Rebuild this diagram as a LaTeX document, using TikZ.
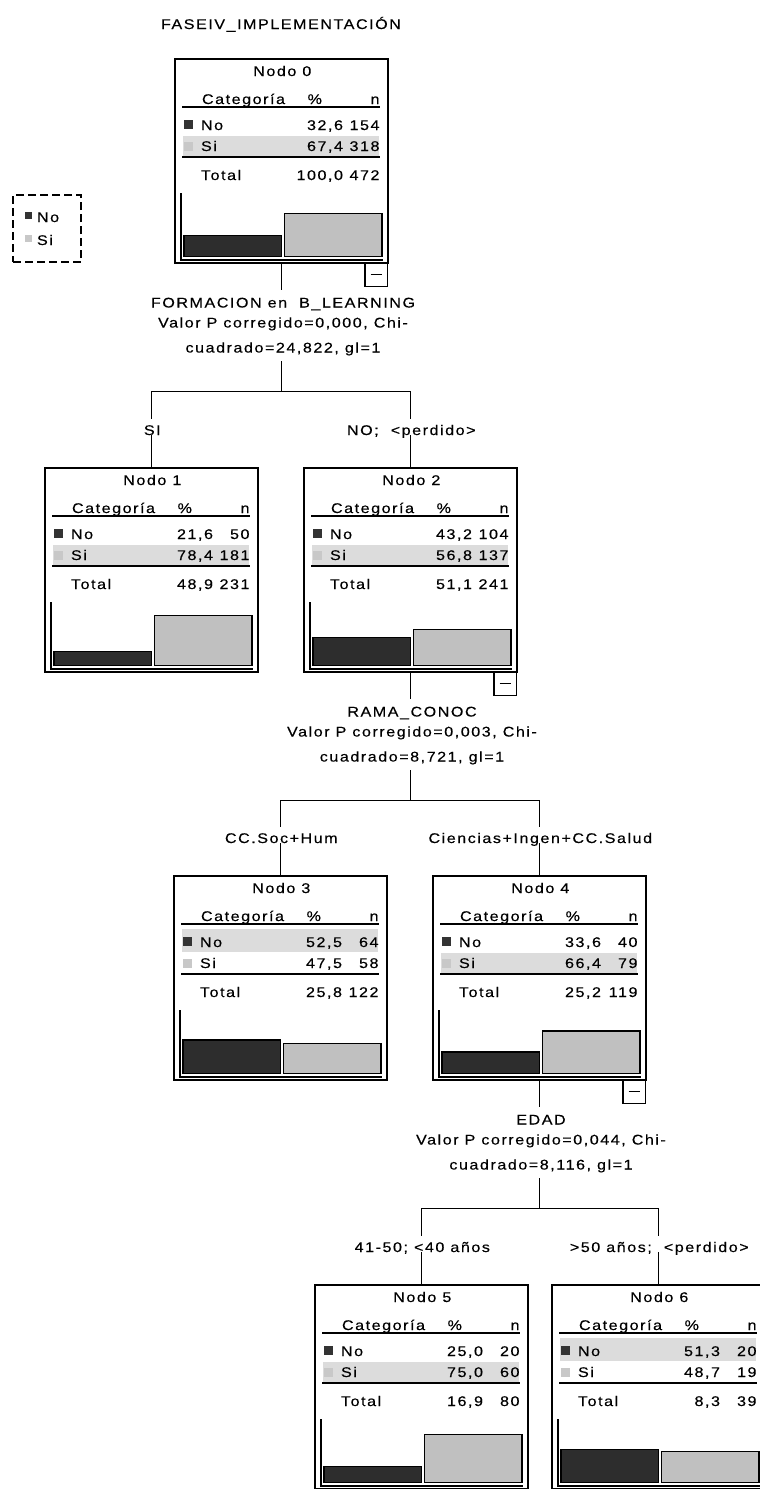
\documentclass[tikz,border=0pt]{standalone}
\usepackage{fontspec}
\setmainfont{Liberation Sans}
\newfontfamily\spssf{Liberation Sans}[LetterSpace=11, FakeStretch=1.15, FakeBold=0.3]
\usetikzlibrary{calc}
\definecolor{dk}{HTML}{2D2D2D}
\definecolor{lt}{HTML}{C0C0C0}
\definecolor{bandc}{HTML}{DCDCDC}
\definecolor{sqd}{HTML}{333333}
\definecolor{sql}{HTML}{C8C8C8}
\tikzset{
  txt/.style={font={\spssf\fontsize{14}{16}\selectfont}, inner sep=0pt, outer sep=0pt},
  frame/.style={draw, line width=1.2pt, anchor=north west, minimum width=213pt, minimum height=204pt, inner sep=0pt, outer sep=0pt},
  rule/.style={line width=1.2pt},
  bar/.style={draw=black, line width=1.2pt},
  conn/.style={line width=1.2pt},
  branch/.style={txt, anchor=base, fill=white, text height=16pt, text depth=0pt, inner xsep=1pt},
  legbox/.style={draw, dash pattern=on 8pt off 4pt, line width=1.2pt, anchor=north west, minimum width=68pt, minimum height=67pt, inner sep=0pt, outer sep=0pt},
}
\def\parsedata#1/#2/#3/#4/#5/#6\endparse{\def\dA{#1}\def\dB{#2}\def\dC{#3}\def\dD{#4}\def\dE{#5}\def\dF{#6}}
% #1 name, #2 x, #3 y, #4 number, #5 data, #6 no %, #7 si %, #8 highlighted row, #9 minus box
\newcommand\treenode[9]{%
  \parsedata#5\endparse
  \begin{scope}[shift={(#2,#3)}]
    \ifnum#8=1 \fill[bandc] (8,53) rectangle (204,76);\else \fill[bandc] (8,77) rectangle (204,97);\fi
    \node[txt,anchor=base] (#1-title) at (107.3,17) {Nodo #4};
    \node[txt,anchor=base west] (#1-cat) at (27,45) {Categoría};
    \node[txt,anchor=base] (#1-pc) at (139.8,45) {\%};
    \node[txt,anchor=base east] (#1-n) at (204.5,45) {n};
    \draw[rule] (7,48) -- (205,48);
    \fill[sqd] (9,61) rectangle (18,70);
    \node[txt,anchor=base west] (#1-no) at (26,71) {No};
    \node[txt,anchor=base east] (#1-nop) at (168,71) {\dA};
    \node[txt,anchor=base east] (#1-non) at (204.5,71) {\dB};
    \fill[sql] (9,83) rectangle (18,92);
    \node[txt,anchor=base west] (#1-si) at (26,92) {Si};
    \node[txt,anchor=base east] (#1-sip) at (168,92) {\dC};
    \node[txt,anchor=base east] (#1-sin) at (204.5,92) {\dD};
    \draw[rule] (7,98) -- (205,98);
    \node[txt,anchor=base west] (#1-tot) at (26,121) {Total};
    \node[txt,anchor=base east] (#1-totp) at (168,121) {\dE};
    \node[txt,anchor=base east] (#1-totn) at (204.5,121) {\dF};
    \draw[rule] (6,134) -- (6,201) -- (208,201);
    \pgfmathsetmacro\hA{197.5-0.64*#6}
    \pgfmathsetmacro\hB{197.5-0.64*#7}
    \draw[bar,fill=dk] (9,\hA) rectangle (106.5,197.5);
    \draw[bar,fill=lt] (109.5,\hB) rectangle (207,197.5);
    \ifnum#9=1 \draw[rule] (190,204) rectangle (212.5,227.5); \draw[rule] (195.5,215.5) -- (207,215.5);\fi
  \end{scope}
  \node[frame] (#1) at (#2,#3) {};
}
% #1 parent, #2-#4 text lines
\newcommand\splitlbl[4]{%
  \node[txt,anchor=base,text height=17.5pt] (#1a) at ($(#1.south)+(1.5,44.5)$) {#2};
  \node[txt,anchor=base] (#1b) at ($(#1.south)+(1.5,64.5)$) {#3};
  \node[txt,anchor=base,text depth=8.5pt] (#1c) at ($(#1.south)+(1.5,89.5)$) {#4};
  \coordinate (#1j) at ($(#1.south)+(0,128.5)$);
  \draw[conn] (#1.south) -- (#1.south |- #1a.north);
  \draw[conn] (#1.south |- #1c.south) -- (#1j);
}
\begin{document}
\begin{tikzpicture}[x=1pt,y=-1pt]
\useasboundingbox (0,0) rectangle (760,1489);
\clip (0,0) rectangle (760,1489);
\fill[white] (0,0) rectangle (760,1489);

\node[txt,anchor=base west] (title) at (161,29) {FASEIV\_IMPLEMENTACIÓN};

% legend
\node[legbox] (legend) at (13,195) {};
\fill[sqd] (25,212) rectangle (32,219);
\node[txt,anchor=base west] (legno) at (37,222) {No};
\fill[sql] (25,235) rectangle (32,242);
\node[txt,anchor=base west] (legsi) at (37,245) {Si};

\treenode{N0}{175}{59}{0}{32,6/154/67,4/318/100,0/472}{32.6}{67.4}{2}{1}
\treenode{N1}{45}{468}{1}{21,6/50/78,4/181/48,9/231}{21.6}{78.4}{2}{0}
\treenode{N2}{304}{468}{2}{43,2/104/56,8/137/51,1/241}{43.2}{56.8}{2}{1}
\treenode{N3}{174}{876}{3}{52,5/64/47,5/58/25,8/122}{52.5}{47.5}{1}{0}
\treenode{N4}{433}{876}{4}{33,6/40/66,4/79/25,2/119}{33.6}{66.4}{2}{1}
\treenode{N5}{315}{1285}{5}{25,0/20/75,0/60/16,9/80}{25}{75}{2}{0}
\treenode{N6}{552}{1285}{6}{51,3/20/48,7/19/8,3/39}{51.3}{48.7}{1}{0}

\splitlbl{N0}{FORMACION en\ \ B\_LEARNING}{Valor P corregido=0,000, Chi-}{cuadrado=24,822, gl=1}
\splitlbl{N2}{RAMA\_CONOC}{Valor P corregido=0,003, Chi-}{cuadrado=8,721, gl=1}
\splitlbl{N4}{EDAD}{Valor P corregido=0,044, Chi-}{cuadrado=8,116, gl=1}

\draw[conn] (N1.north) |- (N0j) -| (N2.north);
\draw[conn] (N3.north) |- (N2j) -| (N4.north);
\draw[conn] (N5.north) |- (N4j) -| (N6.north);

\node[branch] (b1) at ($(N1.north)+(0.8,-33)$) {SI};
\node[branch] (b2) at ($(N2.north)+(0.8,-33)$) {NO;\ \ <perdido>};
\node[branch] (b3) at ($(N3.north)+(0.8,-33)$) {CC.Soc+Hum};
\node[branch] (b4) at ($(N4.north)+(0.8,-33)$) {Ciencias+Ingen+CC.Salud};
\node[branch] (b5) at ($(N5.north)+(0.8,-33)$) {41-50; <40 años};
\node[branch] (b6) at ($(N6.north)+(0.8,-33)$) {>50 años;\ \ <perdido>};
\end{tikzpicture}
\end{document}
